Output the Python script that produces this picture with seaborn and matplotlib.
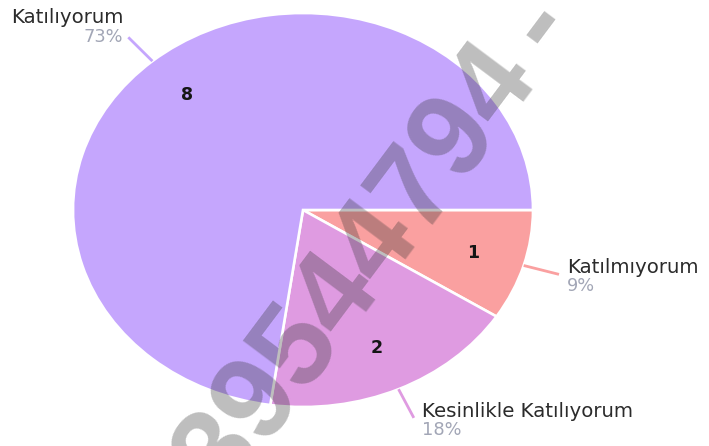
import matplotlib
matplotlib.use("Agg")
import matplotlib.pyplot as plt
import seaborn as sns
import numpy as np

# Data (order drawn clockwise from 3 o'clock)
categories = ["Katılmıyorum", "Kesinlikle Katılıyorum", "Katılıyorum"]
counts = [1, 2, 8]
percent_labels = ["9%", "18%", "73%"]
colors = ["#faa0a0", "#df9be1", "#c5a6fd"]
watermark = "39544794\u2009-"

sns.set_theme(style="white")
plt.rcParams["font.family"] = ["DejaVu Sans"]

W, H = 709, 446
fig = plt.figure(figsize=(W / 100, H / 100), dpi=100)
fig.patch.set_facecolor("white")
ax = fig.add_axes([0, 0, 1, 1])

wedges, texts, autotexts = ax.pie(
    counts,
    colors=colors,
    startangle=0,
    counterclock=False,
    autopct=lambda p: f"{p * sum(counts) / 100:.0f}",
    pctdistance=0.77,
    wedgeprops=dict(edgecolor="white", linewidth=1.9),
    textprops=dict(fontsize=12.5, fontweight="bold", color="#151515"),
)

# pie centre / radii in pixels (the reference is horizontally stretched)
cx, cy, rx, ry = 303, 210, 230, 197
ax.set_aspect("auto")
ax.set_xlim(-cx / rx, (W - cx) / rx)
ax.set_ylim(-(H - cy) / ry, cy / ry)
ax.axis("off")

pt = 0.72  # px -> points at 100 dpi
for w, name, pct, col in zip(wedges, categories, percent_labels, colors):
    th = np.deg2rad((w.theta1 + w.theta2) / 2)
    c, s = np.cos(th), np.sin(th)
    ax.plot([c, 1.16 * c], [s, 1.16 * s], color=col, lw=2.0, solid_capstyle="butt", zorder=1)
    end = (1.16 * c, 1.16 * s)
    if c >= 0:
        ha, dx, dn, dp, vap = "left", 8, 1, -3, "top"
    else:
        ha, dx, dn, dp, vap = "right", -5, 14, 0, "center"
    ax.annotate(name, end, xytext=(dx * pt, dn * pt), textcoords="offset points",
                ha=ha, va="baseline", fontsize=14.2, color="#2b2b2b")
    ax.annotate(pct, end, xytext=(dx * pt, dp * pt), textcoords="offset points",
                ha=ha, va=vap, fontsize=12.8, color="#a2a6b6")

# watermark
fig.text(402 / W, 1 - 265 / H, watermark, rotation=53.2, rotation_mode="anchor",
         ha="center", va="baseline", fontsize=85, fontweight="bold",
         family=["Liberation Sans", "DejaVu Sans"],
         color="#343434", alpha=0.32, zorder=10)

fig.savefig("out.png", dpi=100, facecolor="white")
